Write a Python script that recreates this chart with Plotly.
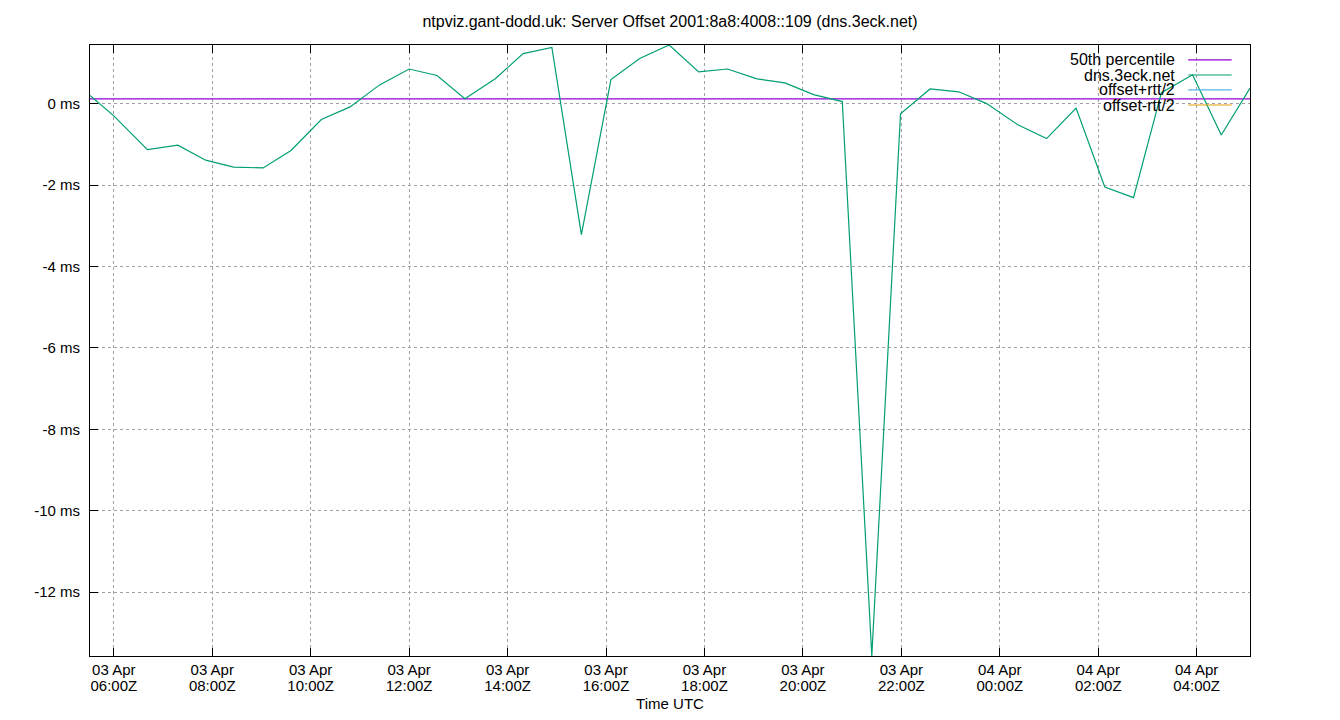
import plotly.graph_objects as go

# ---- data ----
times = [
    "2024-04-03 05:31", "2024-04-03 06:00", "2024-04-03 06:41", "2024-04-03 07:18",
    "2024-04-03 07:52", "2024-04-03 08:26", "2024-04-03 09:02", "2024-04-03 09:36",
    "2024-04-03 10:13", "2024-04-03 10:48", "2024-04-03 11:24", "2024-04-03 12:00",
    "2024-04-03 12:34", "2024-04-03 13:08", "2024-04-03 13:45", "2024-04-03 14:19",
    "2024-04-03 14:54", "2024-04-03 15:30", "2024-04-03 16:06", "2024-04-03 16:41",
    "2024-04-03 17:17", "2024-04-03 17:53", "2024-04-03 18:28", "2024-04-03 19:04",
    "2024-04-03 19:38", "2024-04-03 20:13", "2024-04-03 20:48", "2024-04-03 21:24",
    "2024-04-03 21:59", "2024-04-03 22:35", "2024-04-03 23:10", "2024-04-03 23:44",
    "2024-04-04 00:22", "2024-04-04 00:57", "2024-04-04 01:33", "2024-04-04 02:08",
    "2024-04-04 02:43", "2024-04-04 03:17", "2024-04-04 03:55", "2024-04-04 04:30",
    "2024-04-04 05:05",
]
offset_ms = [
    0.20, -0.30, -1.13, -1.02,
    -1.39, -1.56, -1.58, -1.15,
    -0.39, -0.08, 0.46, 0.85,
    0.69, 0.12, 0.61, 1.23,
    1.38, -3.22, 0.59, 1.11,
    1.44, 0.78, 0.85, 0.61,
    0.51, 0.22, 0.05, -13.57,
    -0.25, 0.36, 0.29, 0.00,
    -0.52, -0.86, -0.11, -2.05,
    -2.31, 0.27, 0.71, -0.77,
    0.38,
]
percentile_50 = 0.116

x_tickvals = [
    "2024-04-03 06:00", "2024-04-03 08:00", "2024-04-03 10:00", "2024-04-03 12:00",
    "2024-04-03 14:00", "2024-04-03 16:00", "2024-04-03 18:00", "2024-04-03 20:00",
    "2024-04-03 22:00", "2024-04-04 00:00", "2024-04-04 02:00", "2024-04-04 04:00",
]
x_tick_dates = [
    "03 Apr", "03 Apr", "03 Apr", "03 Apr", "03 Apr", "03 Apr",
    "03 Apr", "03 Apr", "03 Apr", "04 Apr", "04 Apr", "04 Apr",
]
x_tick_times = [
    "06:00Z", "08:00Z", "10:00Z", "12:00Z", "14:00Z", "16:00Z",
    "18:00Z", "20:00Z", "22:00Z", "00:00Z", "02:00Z", "04:00Z",
]
y_tickvals = [0, -2, -4, -6, -8, -10, -12]
y_ticktext = ["0 ms", "-2 ms", "-4 ms", "-6 ms", "-8 ms", "-10 ms", "-12 ms"]

legend_names = ["50th percentile", "dns.3eck.net", "offset+rtt/2", "offset-rtt/2"]
legend_colors = ["#9400D3", "#009E73", "#56B4E9", "#E69F00"]

FONT = "Liberation Sans, Arial, sans-serif"
TICK_SIZE = 15
TEXT_SIZE = 16

fig = go.Figure()
fig.add_trace(go.Scatter(
    x=[times[0], times[-1]], y=[percentile_50, percentile_50],
    mode="lines", line=dict(color=legend_colors[0], width=1.2),
    name=legend_names[0], showlegend=False, hoverinfo="skip",
))
fig.add_trace(go.Scatter(
    x=times, y=offset_ms, mode="lines",
    line=dict(color=legend_colors[1], width=1.2),
    name=legend_names[1], showlegend=False,
))
# empty helper trace so the second (time-of-day label) axis is rendered
fig.add_trace(go.Scatter(
    x=[times[0]], y=[None], xaxis="x2", mode="lines",
    showlegend=False, hoverinfo="skip",
))

# opaque key box (hides grid only) and manual gnuplot-style key
fig.add_shape(type="rect", xref="paper", yref="paper",
              x0=0.8216, x1=1.0, y0=0.8887, y1=1.0,
              fillcolor="white", line=dict(width=0), layer="between")
row_y = [0.9755, 0.9509, 0.9264, 0.9018]
for name, color, yy in zip(legend_names, legend_colors, row_y):
    fig.add_annotation(x=0.9373, y=yy, xref="paper", yref="paper",
                       text=name, showarrow=False, xanchor="right", yanchor="middle",
                       font=dict(family=FONT, size=TEXT_SIZE, color="black"))
    fig.add_shape(type="line", xref="paper", yref="paper",
                  x0=0.9468, x1=0.9842, y0=yy, y1=yy,
                  line=dict(color=color, width=1.2))

fig.update_layout(
    width=1324, height=704,
    margin=dict(l=82, r=82, t=37, b=56, autoexpand=False),
    paper_bgcolor="white", plot_bgcolor="white",
    font=dict(family=FONT, size=TICK_SIZE, color="black"),
    title=dict(text="ntpviz.gant-dodd.uk: Server Offset 2001:8a8:4008::109 (dns.3eck.net)",
               x=0.5, xanchor="center", xref="container",
               y=1 - 13 / 704, yanchor="middle", yref="container",
               font=dict(family=FONT, size=TEXT_SIZE, color="black")),
    showlegend=False,
    xaxis=dict(
        type="date", range=[times[0], times[-1]],
        tickvals=x_tickvals, ticktext=x_tick_dates,
        ticks="inside", ticklen=8, tickcolor="black", tickwidth=1,
        showline=True, linecolor="black", linewidth=1, mirror="allticks",
        showgrid=True, gridcolor="#a0a0a0", gridwidth=1, griddash="3px,3px",
        zeroline=False, ticklabelstandoff=0, automargin=False,
        tickfont=dict(family=FONT, size=TICK_SIZE),
    ),
    xaxis2=dict(
        type="date", overlaying="x", matches="x", side="bottom", anchor="y",
        tickvals=x_tickvals, ticktext=x_tick_times,
        ticks="", showline=False, showgrid=False, zeroline=False,
        ticklabelstandoff=19, automargin=False,
        tickfont=dict(family=FONT, size=TICK_SIZE),
        title=dict(text="Time UTC", standoff=8, font=dict(family=FONT, size=TICK_SIZE)),
    ),
    yaxis=dict(
        range=[min(offset_ms), max(offset_ms)],
        tickvals=y_tickvals, ticktext=y_ticktext,
        ticks="inside", ticklen=8, tickcolor="black", tickwidth=1,
        showline=True, linecolor="black", linewidth=1, mirror=True,
        showgrid=True, gridcolor="#a0a0a0", gridwidth=1, griddash="3px,3px",
        zeroline=False, ticklabelstandoff=6, automargin=False,
        tickfont=dict(family=FONT, size=TICK_SIZE),
    ),
)

fig.write_html("out.html")
